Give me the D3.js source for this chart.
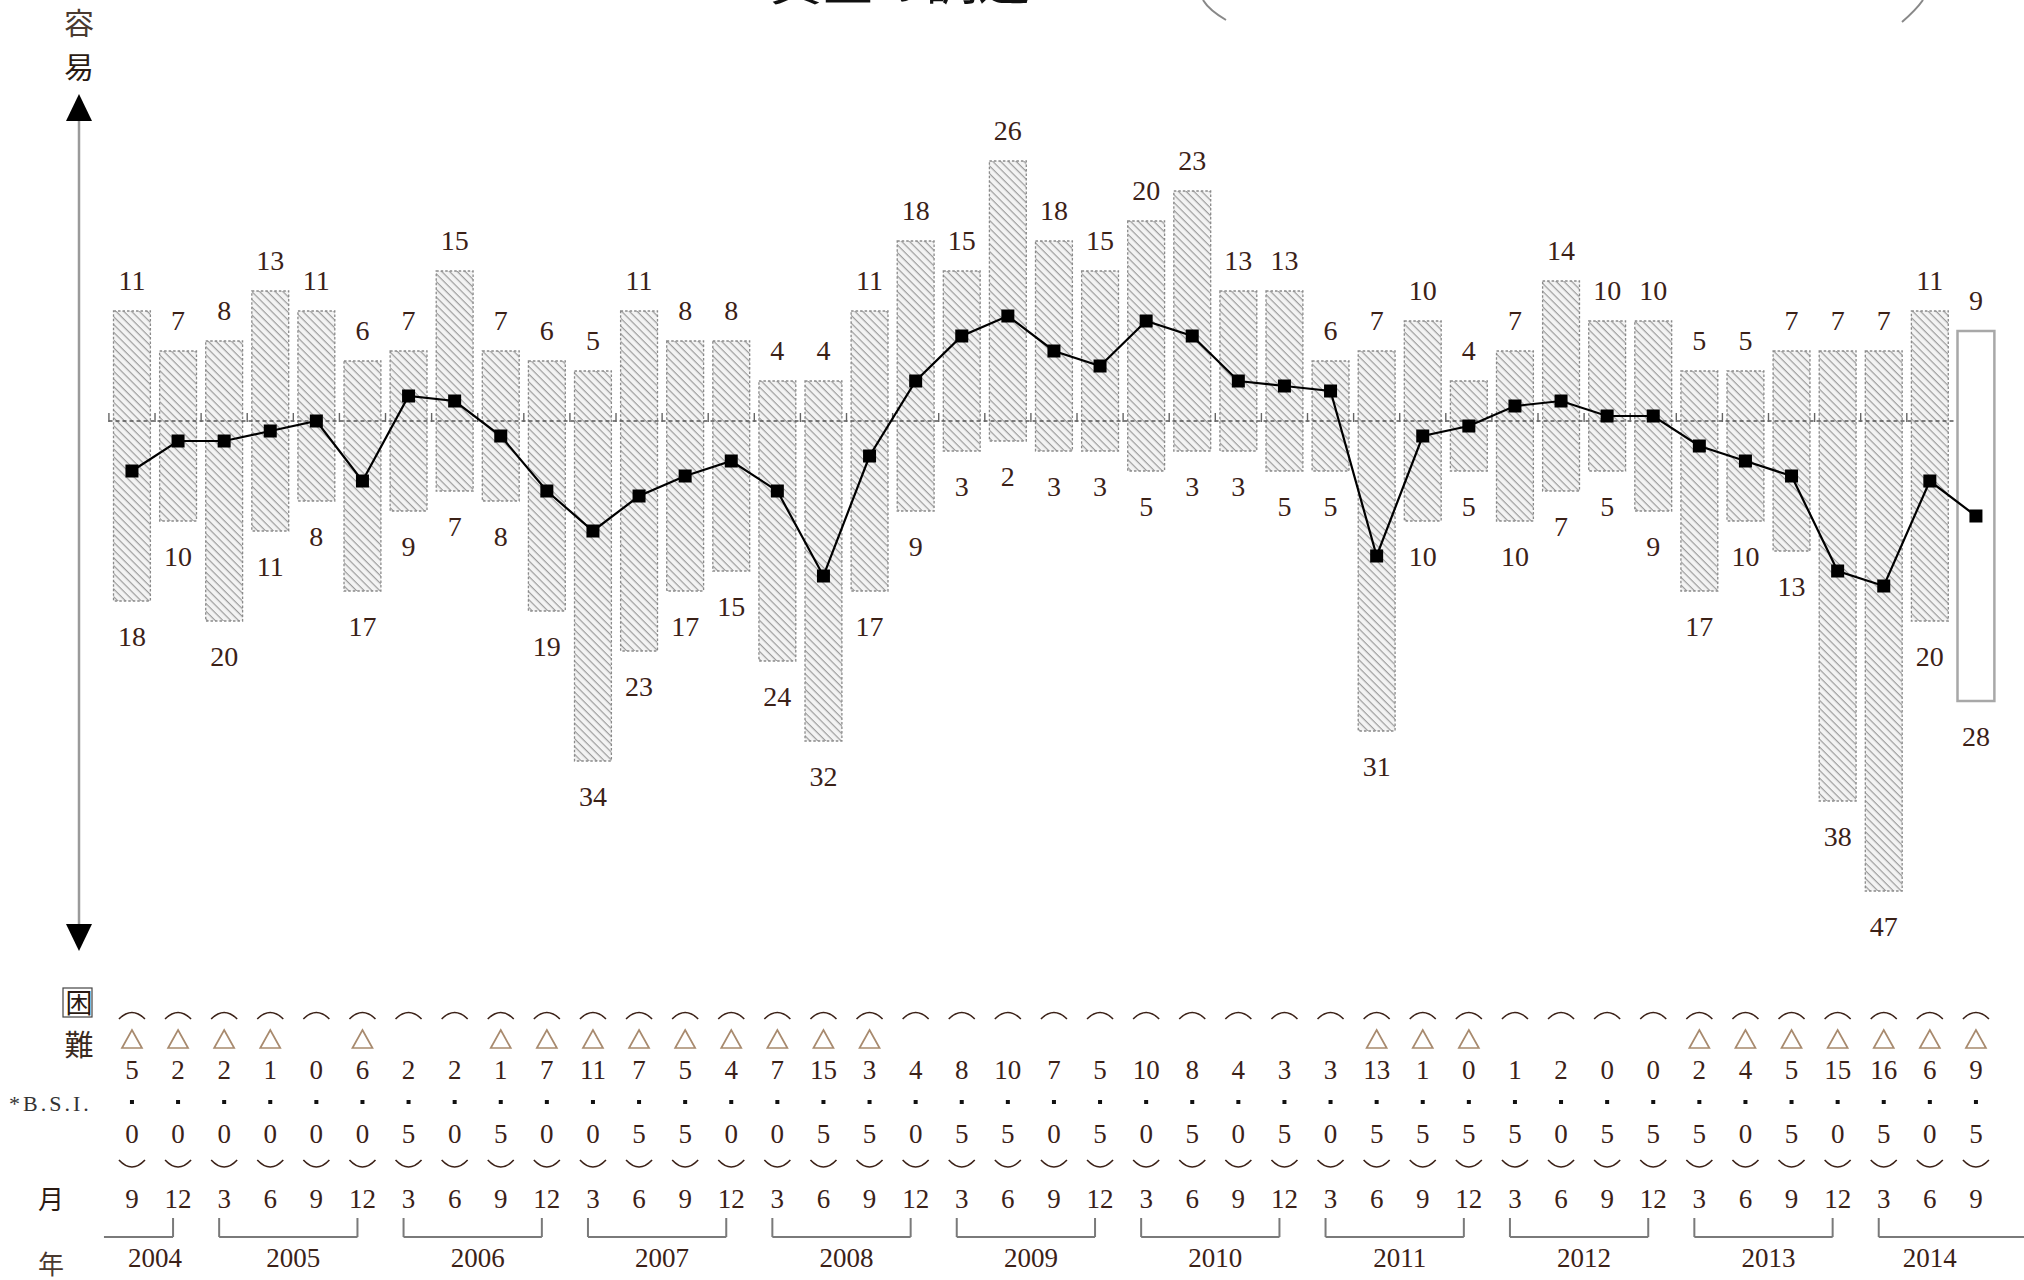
<!DOCTYPE html>
<html><head><meta charset="utf-8">
<script src="https://cdn.jsdelivr.net/npm/d3@7"></script>
<style>
html,body{margin:0;padding:0;background:#fff;}
svg{display:block;}
</style></head>
<body>
<svg id="chart" width="2024" height="1280"></svg>
<script>
// ---- data ----
const periodYear = [2004,2004,
  2005,2005,2005,2005, 2006,2006,2006,2006, 2007,2007,2007,2007,
  2008,2008,2008,2008, 2009,2009,2009,2009, 2010,2010,2010,2010,
  2011,2011,2011,2011, 2012,2012,2012,2012, 2013,2013,2013,2013,
  2014,2014,2014];
const periodMonth = [9,12, 3,6,9,12, 3,6,9,12, 3,6,9,12, 3,6,9,12, 3,6,9,12,
  3,6,9,12, 3,6,9,12, 3,6,9,12, 3,6,9,12, 3,6,9];
const easyPct = [11,7,8,13,11,6,7,15,7,6,5,11,8,8,4,4,11,18,15,26,18,15,20,23,13,13,6,7,10,4,7,14,10,10,5,5,7,7,7,11,9];
const difficultPct = [18,10,20,11,8,17,9,7,8,19,34,23,17,15,24,32,17,9,3,2,3,3,5,3,3,5,5,31,10,5,10,7,5,9,17,10,13,38,47,20,28];
const bsi = [-5.0,-2.0,-2.0,-1.0,0.0,-6.0,2.5,2.0,-1.5,-7.0,-11.0,-7.5,-5.5,-4.0,-7.0,-15.5,-3.5,4.0,8.5,10.5,
  7.0,5.5,10.0,8.5,4.0,3.5,3.0,-13.5,-1.5,-0.5,1.5,2.0,0.5,0.5,-2.5,-4.0,-5.5,-15.0,-16.5,-6.0,-9.5];
const forecastIndex = [40];
const yearList = [2004,2005,2006,2007,2008,2009,2010,2011,2012,2013,2014];

// ---- setup ----
const svg = d3.select("#chart");
const numColor = "#3b2117";
const numFont = "'Liberation Serif','DejaVu Serif',serif";
const cjkFont = "'Noto Sans CJK JP','Noto Sans CJK SC',sans-serif";
const idx = d3.range(easyPct.length);

const x = d3.scaleBand().domain(idx).range([104.3, 2003.6]).padding(0.2);
const cx = i => x(i) + x.bandwidth()/2;
const y = d3.scaleLinear().domain([-50, 30]).range([921, 121]);

// hatch pattern
const defs = svg.append("defs");
const pat = defs.append("pattern").attr("id","hatch").attr("patternUnits","userSpaceOnUse")
  .attr("width",5.5).attr("height",5.5).attr("patternTransform","rotate(45)");
pat.append("rect").attr("width",5.5).attr("height",5.5).attr("fill","#f3f3f3");
pat.append("line").attr("x1",0).attr("y1",0).attr("x2",5.5).attr("y2",0)
  .attr("stroke","#9c9c9c").attr("stroke-width",2.4);

// title (cut off at top edge, as in the source)
svg.append("text").attr("x",770).attr("y",0).attr("font-family",cjkFont)
  .attr("font-size",52).attr("fill","#111").text("資金の調達");
// legend bracket remnants
svg.append("path").attr("d","M1203,0 Q1209,10 1226,20").attr("fill","none").attr("stroke","#888").attr("stroke-width",2);
svg.append("path").attr("d","M1923,0 Q1916,10 1902,22").attr("fill","none").attr("stroke","#888").attr("stroke-width",2);

// left axis
const axX = 79;
svg.append("line").attr("x1",axX).attr("x2",axX).attr("y1",112).attr("y2",932)
  .attr("stroke","#9a9a9a").attr("stroke-width",2.5);
svg.append("path").attr("d",`M${axX},94 L${axX+13},121 L${axX-13},121 Z`).attr("fill","#000");
svg.append("path").attr("d",`M${axX},951 L${axX+13},924 L${axX-13},924 Z`).attr("fill","#000");
svg.append("text").attr("x",axX).attr("y",34).attr("text-anchor","middle").attr("font-family",cjkFont)
  .attr("font-size",30).attr("fill","#4a3a30").text("容");
svg.append("text").attr("x",axX).attr("y",78).attr("text-anchor","middle").attr("font-family",cjkFont)
  .attr("font-size",30).attr("fill","#2a1a12").text("易");
svg.append("rect").attr("x",63).attr("y",988).attr("width",29).attr("height",29)
  .attr("fill","none").attr("stroke","#444").attr("stroke-width",1.2);
svg.append("text").attr("x",axX).attr("y",1013).attr("text-anchor","middle").attr("font-family",cjkFont)
  .attr("font-size",27).attr("fill","#2a1a12").text("困");
svg.append("text").attr("x",axX).attr("y",1056).attr("text-anchor","middle").attr("font-family",cjkFont)
  .attr("font-size",29).attr("fill","#3a2a20").text("難");

// bars
const bars = svg.append("g");
bars.selectAll("rect").data(idx).join("rect")
  .attr("x", i => x(i))
  .attr("width", x.bandwidth())
  .attr("y", i => y(easyPct[i]))
  .attr("height", i => y(-difficultPct[i]) - y(easyPct[i]))
  .attr("fill", i => forecastIndex.includes(i) ? "#fff" : "url(#hatch)")
  .attr("stroke", i => forecastIndex.includes(i) ? "#a8a8a8" : "#8a8a8a")
  .attr("stroke-width", i => forecastIndex.includes(i) ? 2.5 : 1.3)
  .attr("stroke-dasharray", i => forecastIndex.includes(i) ? null : "2.5,2");

// zero line (stops before the forecast bar)
svg.append("line").attr("x1",x(0)-5).attr("x2",x(forecastIndex[0])-3).attr("y1",y(0)).attr("y2",y(0))
  .attr("stroke","#555").attr("stroke-width",1.6).attr("stroke-dasharray","4,3");
svg.append("g").selectAll("line").data(idx.filter(i => !forecastIndex.includes(i))).join("line")
  .attr("x1", i => x(i)-4.6).attr("x2", i => x(i)-4.6)
  .attr("y1", y(0)-8).attr("y2", y(0)+1)
  .attr("stroke","#666").attr("stroke-width",1.4);

// value labels
svg.append("g").selectAll("text").data(idx).join("text")
  .attr("x", cx).attr("y", i => y(easyPct[i]) - 21)
  .attr("text-anchor","middle").attr("font-family",numFont).attr("font-size",28)
  .attr("fill",numColor).text(i => easyPct[i]);
svg.append("g").selectAll("text").data(idx).join("text")
  .attr("x", cx).attr("y", i => y(-difficultPct[i]) + 45)
  .attr("text-anchor","middle").attr("font-family",numFont).attr("font-size",28)
  .attr("fill",numColor).text(i => difficultPct[i]);

// BSI line
svg.append("path").datum(idx)
  .attr("d", d3.line().x(cx).y(i => y(bsi[i])))
  .attr("fill","none").attr("stroke","#000").attr("stroke-width",2.2);
svg.append("g").selectAll("rect").data(idx).join("rect")
  .attr("x", i => cx(i)-6.5).attr("y", i => y(bsi[i])-6.5)
  .attr("width",13).attr("height",13).attr("fill","#000");

// ---- bottom table ----
const tbl = svg.append("g");
tbl.selectAll("path.ta").data(idx).join("path").attr("class","ta")
  .attr("d", i => `M${cx(i)-13},1019 Q${cx(i)},1006 ${cx(i)+13},1019`)
  .attr("fill","none").attr("stroke","#3b2117").attr("stroke-width",1.6);
tbl.selectAll("path.ba").data(idx).join("path").attr("class","ba")
  .attr("d", i => `M${cx(i)-13},1160 Q${cx(i)},1174 ${cx(i)+13},1160`)
  .attr("fill","none").attr("stroke","#3b2117").attr("stroke-width",1.6);
tbl.selectAll("path.tri").data(idx.filter(i => bsi[i] < 0)).join("path").attr("class","tri")
  .attr("d", i => `M${cx(i)},1030 L${cx(i)+10},1048 L${cx(i)-10},1048 Z`)
  .attr("fill","none").attr("stroke","#a88a6e").attr("stroke-width",1.7);
tbl.selectAll("text.ip").data(idx).join("text").attr("class","ip")
  .attr("x", cx).attr("y", 1079).attr("text-anchor","middle")
  .attr("font-family",numFont).attr("font-size",27).attr("fill",numColor)
  .text(i => Math.floor(Math.abs(bsi[i]) + 1e-9));
tbl.selectAll("rect.dot").data(idx).join("rect").attr("class","dot")
  .attr("x", i => cx(i)-2).attr("y",1100).attr("width",4).attr("height",4).attr("fill","#111");
tbl.selectAll("text.dp").data(idx).join("text").attr("class","dp")
  .attr("x", cx).attr("y", 1143).attr("text-anchor","middle")
  .attr("font-family",numFont).attr("font-size",27).attr("fill",numColor)
  .text(i => Math.round(Math.abs(bsi[i]) * 10) % 10);
tbl.selectAll("text.mo").data(idx).join("text").attr("class","mo")
  .attr("x", cx).attr("y", 1208).attr("text-anchor","middle")
  .attr("font-family",numFont).attr("font-size",27).attr("fill",numColor)
  .text(i => periodMonth[i]);

svg.append("text").attr("x",9).attr("y",1111).attr("font-family",numFont)
  .attr("font-size",22).attr("letter-spacing",3).attr("fill","#333").text("*B.S.I.");
svg.append("text").attr("x",51).attr("y",1209).attr("text-anchor","middle").attr("font-family",cjkFont)
  .attr("font-size",26).attr("fill","#2a1a12").text("月");
svg.append("text").attr("x",51).attr("y",1274).attr("text-anchor","middle").attr("font-family",cjkFont)
  .attr("font-size",26).attr("fill","#4a3a30").text("年");

// year brackets
yearList.forEach((yr, k) => {
  const cols = idx.filter(i => periodYear[i] === yr);
  const first = cols[0], last = cols[cols.length-1];
  const x0 = k === 0 ? cx(first) - 28 : cx(first) - 5;
  const x1 = k === yearList.length-1 ? 2024 : cx(last) - 5;
  let d = `M${x0},1237 L${x1},1237`;
  if (k !== 0) d += ` M${x0},1218 L${x0},1237`;
  if (k !== yearList.length-1) d += ` M${x1},1218 L${x1},1237`;
  svg.append("path").attr("d", d).attr("fill","none").attr("stroke","#7a7a7a").attr("stroke-width",2);
  svg.append("text").attr("x", (cx(first)+cx(last))/2).attr("y",1267).attr("text-anchor","middle")
    .attr("font-family",numFont).attr("font-size",27).attr("fill",numColor).text(yr);
});
</script>
</body></html>
